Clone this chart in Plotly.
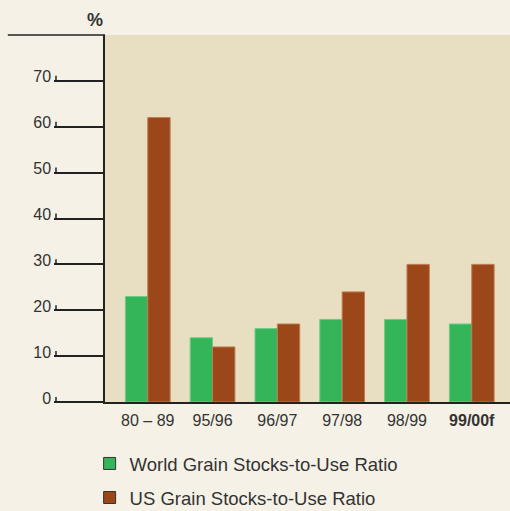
import plotly.graph_objects as go

# Grain stocks-to-use ratios (%)
seasons = ["80 – 89", "95/96", "96/97", "97/98", "98/99", "<b>99/00f</b>"]
world_ratio = [23, 14, 16, 18, 18, 17]
us_ratio = [62, 12, 17, 24, 30, 30]
y_ticks = [0, 10, 20, 30, 40, 50, 60, 70]

series_names = ["World Grain Stocks-to-Use Ratio", "US Grain Stocks-to-Use Ratio"]
fill_colors = ["#35B55A", "#9C4719"]
edge_colors = ["#6ECB84", "#BE7B52"]

positions = list(range(len(seasons)))
FONT = "Liberation Sans, Arial, sans-serif"

fig = go.Figure()
for name, vals, fill, edge in zip(series_names, [world_ratio, us_ratio], fill_colors, edge_colors):
    fig.add_trace(go.Bar(
        x=positions, y=vals, name=name, showlegend=False,
        marker=dict(color=fill, line=dict(color=edge, width=1)),
    ))

# Legend keys: filled squares with a dark outline
for i, (name, fill) in enumerate(zip(series_names, fill_colors)):
    fig.add_trace(go.Scatter(
        x=[None], y=[None], mode="markers", name=name, legendgroup=f"g{i}",
        marker=dict(symbol="square", size=12, color=fill,
                    line=dict(color="#333", width=1)),
    ))

# Small upward hooks at the outer end of each tick line
shapes = []
for v in y_ticks:
    shapes.append(dict(type="line", xref="paper", yref="y",
                       x0=-0.121, x1=-0.121, y0=v, y1=v + 1.1,
                       line=dict(color="#222", width=1.5)))
# Rule across the top of the axis column
shapes.append(dict(type="line", xref="paper", yref="paper",
                   x0=-0.24, x1=0, y0=1, y1=1,
                   line=dict(color="#222", width=1.5)))

fig.update_layout(
    width=510, height=511,
    margin=dict(l=105, r=0, t=35, b=109, autoexpand=False),
    paper_bgcolor="#F5F1E6",
    plot_bgcolor="#E8DFC3",
    barmode="group", bargap=0.31, bargroupgap=0,
    font=dict(family=FONT, color="#333", size=16),
    xaxis=dict(
        range=[-0.66, 5.59], tickvals=positions, ticktext=seasons,
        showgrid=False, zeroline=False, showline=True,
        linecolor="#222", linewidth=1.5, ticks="",
        ticklabelstandoff=3,
        tickfont=dict(size=16, color="#333"),
    ),
    yaxis=dict(
        range=[0, 80], tickvals=y_ticks, showgrid=False, zeroline=False,
        showline=True, linecolor="#222", linewidth=1.5,
        ticks="outside", ticklen=49, tickwidth=1.5, tickcolor="#222",
        ticklabelstandoff=0, ticklabelshift=-4,
        tickfont=dict(size=16, color="#333"),
    ),
    shapes=shapes,
    annotations=[dict(text="<b>%</b>", xref="paper", yref="paper",
                      x=-0.025, y=1, xanchor="center", yanchor="middle",
                      yshift=15, showarrow=False,
                      font=dict(size=18, color="#333"))],
    legend=dict(
        x=-0.038, y=-0.117, xanchor="left", yanchor="top",
        traceorder="grouped", tracegroupgap=7,
        font=dict(size=18.5, color="#333"), bgcolor="rgba(0,0,0,0)",
    ),
)

fig.write_html("out.html")
